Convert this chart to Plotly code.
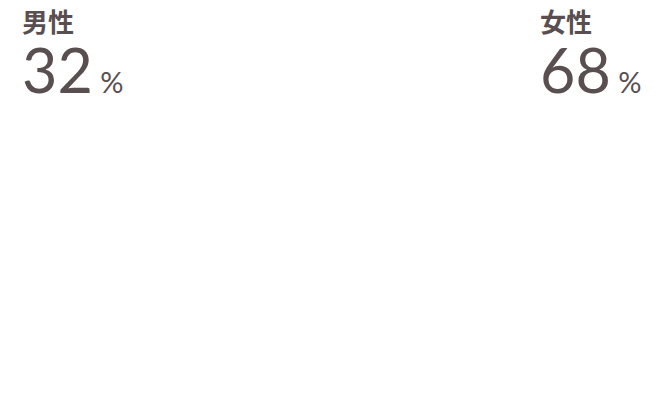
import plotly.graph_objects as go

# share by gender
labels = ['男性', '女性']
shares = [32, 68]

W, H = 670, 400
text_col = '#5a4f50'

# left edge of each block, in pixels
x_left = [12, 530]

fig = go.Figure()

for lab, val, xp in zip(labels, shares, x_left):
    txt = ("<span style='font-size:26px;font-weight:bold;font-family:Noto Sans CJK JP'>" + lab + "</span><br>"
           "<span style='font-size:61px'>" + str(val) + "</span>"
           "<span style='font-size:29px'> %</span>")
    fig.add_annotation(x=xp / W, y=1 + 8 / H, xref='paper', yref='paper',
                       xanchor='left', yanchor='top', align='left', showarrow=False,
                       text=txt,
                       font=dict(family='Lato', size=47, color=text_col))

fig.update_layout(width=W, height=H, margin=dict(l=0, r=0, t=0, b=0),
                  paper_bgcolor='white', plot_bgcolor='white',
                  xaxis=dict(visible=False), yaxis=dict(visible=False),
                  showlegend=False)

fig.write_html("out.html")
